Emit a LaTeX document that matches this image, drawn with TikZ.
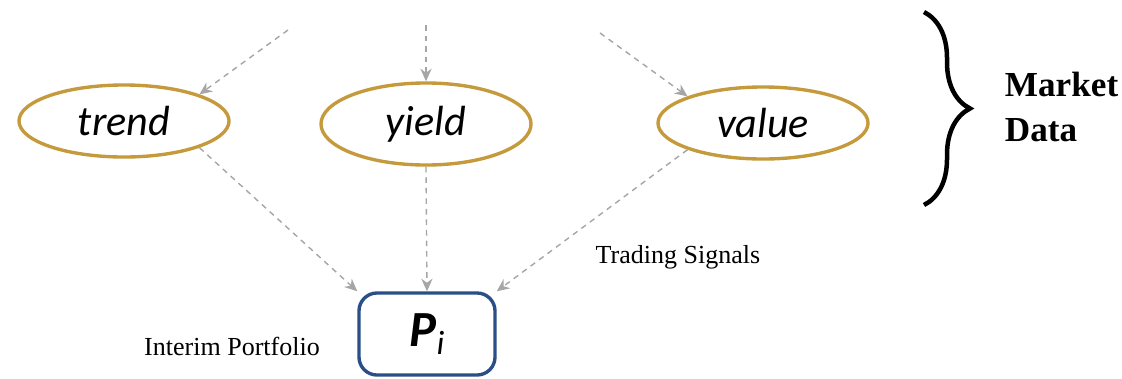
\documentclass[tikz,border=0pt]{standalone}
\usepackage{fontspec}
\setmainfont{Liberation Serif}
\newfontfamily\calfont{Carlito}
\usepackage{xcolor}
\usepackage{tikz}
\usetikzlibrary{arrows.meta,shapes.geometric,decorations.pathreplacing}
\definecolor{gold}{HTML}{C49A3C}
\definecolor{navy}{HTML}{2A4F86}
\definecolor{flow}{HTML}{A6A6A6}
\tikzset{
  signal/.style={ellipse, draw=gold, line width=2.4pt, minimum width=5.25cm, minimum height=1.8cm,
    inner sep=0pt, font=\calfont\itshape\fontsize{30}{34}\selectfont},
  port/.style={draw=navy, line width=2.4pt, rounded corners=0.45cm, minimum width=3.4cm, minimum height=2.05cm,
    font=\calfont\fontsize{36}{38}\selectfont},
  feed/.style={draw=flow, line width=1pt, dash pattern=on 4pt off 3.5pt, -{Stealth[length=9pt,width=8pt]}},
  lab/.style={font=\fontsize{18.5}{22}\selectfont}
}
\begin{document}
\begin{tikzpicture}[x=0.025cm,y=-0.025cm]
  \useasboundingbox (0,0) rectangle (1122,378);

  \node[signal] (trend) at (124,121) {trend};
  \node[signal, minimum height=2.05cm] (yield) at (426,124) {yield};
  \node[signal] (value) at (763,123) {value};
  \node[port] (P) at (427,334) {{\bfseries\itshape P}\raisebox{-0.35ex}{\fontsize{24}{26}\selectfont\itshape i}};

  % free ends of the incoming data
  \coordinate (inT) at (288,30);
  \coordinate (inY) at (426,25);
  \coordinate (inV) at (600,33);
  \draw[feed] (inT) -- (trend.north east);
  \draw[feed] (inY) -- (yield.north);
  \draw[feed] (inV) -- (value.north west);

  \draw[feed] (trend.south east) -- (P.north west);
  \draw[feed] (yield.south) -- (P.north);
  \draw[feed] (value.south west) -- (P.north east);

  \node[lab] (sig) at (678,257) {Trading Signals};
  \node[lab] (port) at (232,346) {Interim Portfolio};

  % market data brace
  \coordinate (bT) at (924,12);
  \coordinate (bB) at (924,205);
  \draw[line width=3.2pt, decorate, decoration={brace, amplitude=1.15cm}] (bT) -- (bB);
  \node[anchor=west, align=left, font=\bfseries\fontsize{25}{32}\selectfont] (mkt) at (1000,107) {Market\\Data};
\end{tikzpicture}
\end{document}
